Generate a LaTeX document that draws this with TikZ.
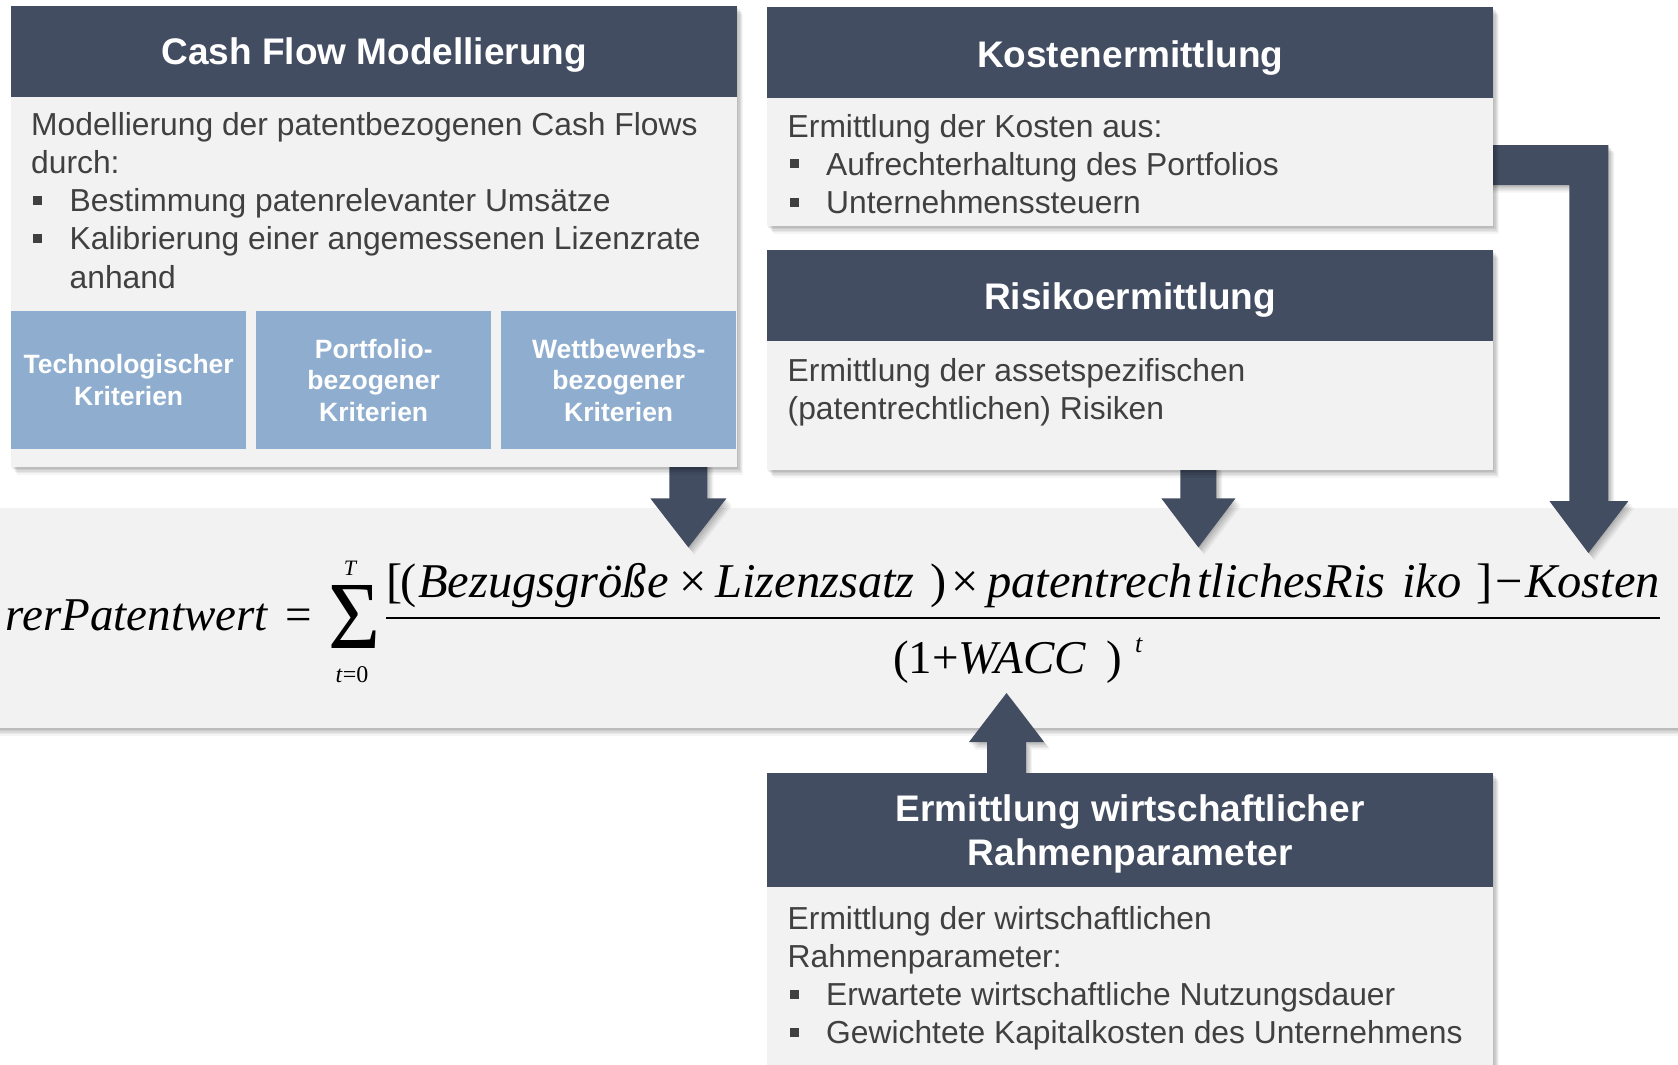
\documentclass[tikz,border=0pt]{standalone}
\usepackage{fontspec}
\setmainfont{Liberation Sans}
\newfontfamily\serf{Liberation Serif}
\usepackage{graphicx}
\usetikzlibrary{calc}
\definecolor{hdr}{RGB}{66,77,98}
\definecolor{bodybg}{RGB}{242,242,242}
\definecolor{critblue}{RGB}{143,174,207}
\definecolor{txt}{RGB}{64,64,64}
\pgfdeclarelayer{formulalayer}
\pgfdeclarelayer{arrowlayer}
\pgfsetlayers{formulalayer,arrowlayer,main}
\newcommand\bitem{\makebox[38.5pt][l]{\hspace*{2pt}\rule[7pt]{9pt}{9pt}}}
\newcommand\at[2]{\rlap{\hspace*{#1pt}#2}}
\begin{document}
\begin{tikzpicture}[x=1pt,y=-1pt,
 shad/.style={
   preaction={fill=black,opacity=0.07,transform canvas={xshift=1pt,yshift=-1.5pt}},
   preaction={fill=black,opacity=0.07,transform canvas={xshift=2.5pt,yshift=-3pt}},
   preaction={fill=black,opacity=0.06,transform canvas={xshift=4pt,yshift=-4.5pt}},
   preaction={fill=black,opacity=0.05,transform canvas={xshift=5pt,yshift=-6pt}},
   preaction={fill=black,opacity=0.04,transform canvas={xshift=6pt,yshift=-7.5pt}}},
 panel/.style={fill=bodybg,inner sep=0pt,anchor=north west,shad},
 header/.style={fill=hdr,inner sep=0pt,anchor=north west},
 ttl/.style={text=white,font=\bfseries\fontsize{37}{44.4}\selectfont,inner sep=0pt,align=center},
 bodytxt/.style={text=txt,font=\fontsize{31.8}{38.3}\selectfont,inner sep=0pt,anchor=base west},
 crit/.style={fill=critblue,text=white,font=\bfseries\fontsize{26.5}{31.5}\selectfont,align=center,inner sep=0pt,minimum width=235pt,minimum height=138pt,anchor=north west},
 arrowshape/.style={fill=hdr,shad},
 fml/.style={font=\serf\fontsize{47}{56}\selectfont,inner sep=0pt}]
\useasboundingbox (0,0) rectangle (1678,1065);

% Cash Flow Modellierung
\node[panel,minimum width=726pt,minimum height=461pt] (cf) at (11,6) {};
\node[header,minimum width=726pt,minimum height=91pt] (cfh) at (cf.north west) {};
\node[ttl,anchor=base] (cft) at ($(cf.north)+(0,59)$) {Cash Flow Modellierung};
\node[bodytxt] (cfb) at (31,135) {\begin{tabular}[t]{@{}l@{}}Modellierung der patentbezogenen Cash Flows\\ durch:\\ \bitem Bestimmung patenrelevanter Umsätze\\ \bitem Kalibrierung einer angemessenen Lizenzrate\\ \hspace*{38.5pt}anhand\end{tabular}};
\node[crit] (c1) at (11,311) {Technologischer\\Kriterien};
\node[crit] (c2) at (256,311) {Portfolio-\\bezogener\\Kriterien};
\node[crit] (c3) at (501,311) {Wettbewerbs-\\bezogener\\Kriterien};

% Kostenermittlung
\node[panel,minimum width=726pt,minimum height=219pt] (kost) at (767,7) {};
\node[header,minimum width=726pt,minimum height=91pt] (kosth) at (kost.north west) {};
\node[ttl,anchor=base] (kostt) at ($(kost.north)+(0,60)$) {Kostenermittlung};
\node[bodytxt] (kostb) at (787.5,137) {\begin{tabular}[t]{@{}l@{}}Ermittlung der Kosten aus:\\ \bitem Aufrechterhaltung des Portfolios\\ \bitem Unternehmenssteuern\end{tabular}};

% Risikoermittlung
\node[panel,minimum width=726pt,minimum height=220pt] (risk) at (767,250) {};
\node[header,minimum width=726pt,minimum height=91pt] (riskh) at (risk.north west) {};
\node[ttl,anchor=base] (riskt) at ($(risk.north)+(0,59)$) {Risikoermittlung};
\node[bodytxt] (riskb) at (787.5,381) {\begin{tabular}[t]{@{}l@{}}Ermittlung der assetspezifischen\\ (patentrechtlichen) Risiken\end{tabular}};

% Rahmenparameter
\node[panel,minimum width=726pt,minimum height=330pt] (rahm) at (767,773) {};
\node[header,minimum width=726pt,minimum height=114pt] (rahmh) at (rahm.north west) {};
\node[ttl] (rahmt) at ($(rahm.north)+(0,61)$) {Ermittlung wirtschaftlicher\\Rahmenparameter};
\node[bodytxt] (rahmb) at (787.5,929) {\begin{tabular}[t]{@{}l@{}}Ermittlung der wirtschaftlichen\\ Rahmenparameter:\\ \bitem Erwartete wirtschaftliche Nutzungsdauer\\ \bitem Gewichtete Kapitalkosten des Unternehmens\end{tabular}};

% formula panel (lowest layer)
\begin{pgfonlayer}{formulalayer}
\fill[white] (0,0) rectangle (1678,1065);
\node[panel,minimum width=1720pt,minimum height=220pt] (fbox) at (-21,508) {};
\end{pgfonlayer}

% arrows
\begin{pgfonlayer}{arrowlayer}
\fill[arrowshape] ($(cf.south east)+(-68,-7)$) -- ++(38,0) -- ++(0,38) -- ++(19,0) -- ++(-38,49) -- ++(-38,-49) -- ++(19,0) -- cycle;
\fill[arrowshape] ($(risk.south east)+(-313,-7)$) -- ++(36,0) -- ++(0,35) -- ++(19,0) -- ++(-37,49) -- ++(-37,-49) -- ++(19,0) -- cycle;
\fill[arrowshape] ($(kost.north east)+(-13,138)$) -- ++(128,0) -- ++(0,356) -- ++(20,0) -- ++(-40,52) -- ++(-39,-52) -- ++(20,0) -- ++(0,-316) -- ++(-89,0) -- cycle;
\fill[arrowshape] ($(rahm.north west)+(220,7)$) -- ++(39,0) -- ++(0,-38) -- ++(18,0) -- ++(-37.5,-49) -- ++(-37.5,49) -- ++(18,0) -- cycle;
\end{pgfonlayer}

% formula
\node[fml,anchor=base east] (lhs) at (268,630) {\itshape rerPatentwert};
\node[fml,anchor=base west] (eq) at (285,630) {=};
\node[inner sep=0pt] (sum) at (354,617) {\resizebox*{52pt}{63pt}{\serf Σ}};
\node[fml,anchor=base,font=\serf\itshape\fontsize{22}{26}\selectfont] (sumT) at (350,575) {T};
\node[fml,anchor=base,font=\serf\fontsize{24}{28}\selectfont] (sumb) at (352,682) {\textit{t}=0};
\node[fml,anchor=base west,font=\serf\fontsize{48.5}{58}\selectfont] (num) at (386,597) {\makebox[1274pt][l]{\at{0}{[}\at{14}{(}\at{32}{\textit{Bezugsgröße}}\at{293}{×}\at{329}{\textit{Lizenzsatz}}\at{544}{)}\at{565}{×}\at{601}{\textit{patentrech}}\at{811}{\textit{tlichesRis}}\at{1016}{\textit{iko}}\at{1090}{]}\at{1109}{−}\at{1139}{\textit{Kosten}}}};
\draw[line width=2.5pt] ($(num.base west)+(0,21)$) -- ($(num.base west)+(1274,21)$);
\node[fml,anchor=base west] (den) at (893,673) {(1+\textit{WACC}\kern20pt)\kern13pt\raisebox{21pt}{\fontsize{26}{30}\selectfont\textit{t}}};
\end{tikzpicture}
\end{document}
